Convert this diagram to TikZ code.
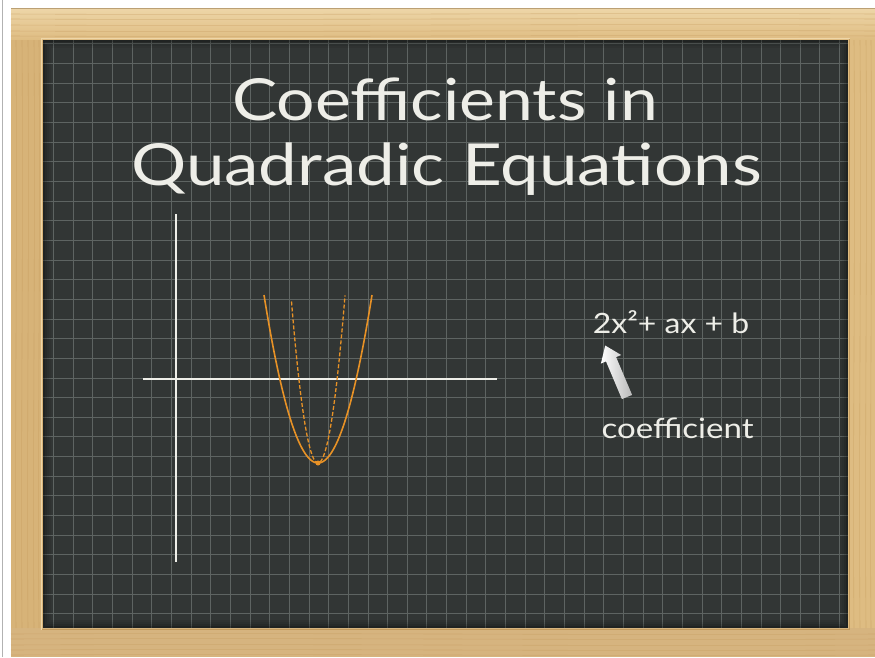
\documentclass[tikz,border=0pt]{standalone}
\usepackage{fontspec}
\setmainfont{Lato}
\usetikzlibrary{calc}
\definecolor{wood}{RGB}{222,188,130}
\definecolor{wooddark}{RGB}{196,154,92}
\definecolor{woodlight}{RGB}{238,214,168}
\definecolor{board}{RGB}{50,54,53}
\definecolor{gridc}{RGB}{94,100,98}
\definecolor{chalk}{RGB}{238,238,232}
\definecolor{curve}{RGB}{232,146,38}
\tikzset{
  gridline/.style={draw=gridc, line width=0.8pt},
  grain/.style={draw=wooddark, line width=0.6pt, opacity=0.45},
  axisline/.style={draw=chalk, line width=2pt},
  solidcurve/.style={draw=curve, line width=1.6pt},
  dashcurve/.style={draw=curve, line width=1.3pt, dash pattern=on 4pt off 2pt},
  titletext/.style={text=chalk, font=\fontsize{58}{60}\selectfont, inner sep=0pt},
  labeltext/.style={text=chalk, font=\fontsize{28}{30}\selectfont, inner sep=0pt}
}
\begin{document}
\begin{tikzpicture}[x=1pt,y=-1pt]
\useasboundingbox (0,0) rectangle (875,657);
\fill[white] (0,0) rectangle (875,657);
\draw[gray!60, line width=1pt] (2.5,0) -- (2.5,657);
% frame
\fill[wood] (11,8) rectangle (875,657);
\shade[top color=woodlight, bottom color=wood] (11,8) rectangle (875,40);
\fill[wooddark!80, opacity=0.5] (11,628) rectangle (875,657);
\fill[wooddark, opacity=0.25] (11,40) rectangle (43,628);
\draw[wooddark!70!black, line width=0.6pt, opacity=0.5] (11,8) -- (875,8);
% grain
\foreach \y in {14,19,25,31,36} \draw[grain] (11,\y) .. controls (300,\y+1.5) and (600,\y-1.5) .. (875,\y);
\foreach \y in {634,639,645,650,655} \draw[grain] (11,\y) .. controls (300,\y-1.5) and (600,\y+1.5) .. (875,\y);
\foreach \x in {16,22,28,34,39} \draw[grain] (\x,40) .. controls (\x+1.5,250) and (\x-1.5,450) .. (\x,628);
\foreach \x in {854,860,866,871} \draw[grain] (\x,40) .. controls (\x+1.5,250) and (\x-1.5,450) .. (\x,628);
% bevel
\draw[woodlight, line width=1.2pt] (41.5,629.5) -- (41.5,38.5) -- (849.5,38.5);
\draw[wooddark, line width=1.2pt] (849.5,38.5) -- (849.5,629.5) -- (41.5,629.5);
% board
\fill[board] (43,40) rectangle (848,628);
\begin{scope}
\clip (43,40) rectangle (848,628);
\foreach \i in {-1,...,41} \draw[gridline] (53.5+\i*19.65,40) -- (53.5+\i*19.65,628);
\foreach \i in {-1,...,30} \draw[gridline] (43,63.5+\i*19.65) -- (848,63.5+\i*19.65);
\foreach \k/\o in {1/0.35,3/0.22,5/0.12,7/0.06}
  \draw[black, line width=2pt, opacity=\o] (43+\k,40+\k) rectangle (848-\k,628-\k);
\end{scope}
% title
\node[titletext, anchor=base] (t1) at (445,120) {\scalebox{1.17}[1]{Coefficients in}};
\node[titletext, anchor=base] (t2) at (446.5,185) {\scalebox{1.19}[1]{Quadradic Equations}};
% axes
\draw[axisline] (176,214) -- (176,562);
\draw[axisline] (143,379) -- (497,379);
% parabolas
\draw[solidcurve] plot[domain=264:372, samples=60, smooth] (\x,{463-0.0576*(\x-318)^2});
\draw[dashcurve] plot[domain=291.5:345, samples=60, smooth] (\x,{463-0.23*(\x-318)^2});
\fill[curve] (318,463) circle (2.5pt);
% formula
\node[labeltext, anchor=base] (eq) at (671,333) {\scalebox{1.14}[1]{2x²+ ax + b}};
\node[labeltext, anchor=base] (co) at (677.5,438) {\scalebox{1.18}[1]{coefficient}};
% arrow
\shade[left color=white, right color=gray!55, draw=none]
  (621.9,399.1) -- (632.1,394.9) -- (616.1,357.1) -- (621.2,355.0) -- (605.2,345.5)
  -- (600.9,363.6) -- (606.0,361.4) -- cycle;
\end{tikzpicture}
\end{document}
